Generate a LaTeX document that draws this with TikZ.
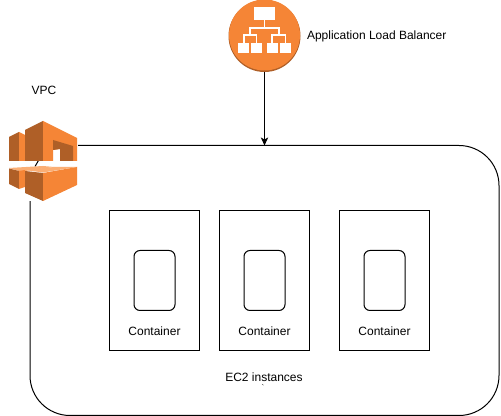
\documentclass[tikz,border=0pt]{standalone}
\usepackage{fontspec}
\usetikzlibrary{arrows.meta}
\setmainfont{Liberation Sans}
\definecolor{awsorange}{HTML}{F58536}
\definecolor{awsdark}{HTML}{AF5F27}
\definecolor{awstop}{HTML}{FBAE74}
\setlength{\unitlength}{0.75pt}
\tikzset{
  outerbox/.style={draw,rectangle,rounded corners=40\unitlength,minimum width=469\unitlength,minimum height=270\unitlength,line width=0.75pt},
  ec2box/.style={draw,rectangle,minimum width=90\unitlength,minimum height=140\unitlength,line width=0.75pt},
  taskbox/.style={draw,rectangle,rounded corners=6\unitlength,minimum width=41\unitlength,minimum height=60\unitlength,line width=0.75pt},
  txt/.style={font=\fontsize{9}{11}\selectfont,inner sep=0pt},
  leafbox/.style={fill=white,draw=none},
  tree/.style={draw=white,line width=1.1pt}
}
\begin{document}
\begin{tikzpicture}[x=0.75pt,y=-0.75pt,inner sep=0pt,outer sep=0pt]
    \useasboundingbox (0,0) rectangle (501,416);
    \node[outerbox] (ec2) at (264.5,280.5) {};
    \node[circle,fill=awsdark,minimum size=72\unitlength] (alb) at (264.5,36) {};
    \fill[awsorange] (264.5,35) circle[radius=35.5];
    \def\boxes{154.5,264.5,384.5}
    \foreach \u [count=\i from 1] in \boxes {\node[ec2box] (box\i) at (\u,280.5) {};}
    \foreach \u [count=\i from 1] in \boxes {\node[taskbox] (task\i) at (\u,280.5) {};}
    \foreach \u [count=\i from 1] in \boxes {\node[txt] (name\i) at (\u,331) {Container};}
    \node[txt,anchor=west] (albname) at (307,36) {Application Load Balancer};
    \node[txt] (vpcname) at (44,90) {VPC};
    \node[txt] (ec2name) at (264,377) {EC2 instances};
    \node[txt,font=\fontsize{6}{7}\selectfont] (tick) at (263,388) {\textasciigrave};
    \draw[-{Stealth[length=6pt,width=5.5pt,inset=1.5pt]},line width=0.75pt] (alb.south) -- (ec2.north);
    %VPC icon
    \fill[white] (9,120) rectangle (78,201);
    \draw[line width=0.75pt] (35,166.5) -- (38.5,160.5);
    \draw[line width=0.75pt] (53,148.5) -- (59,146.5);
    \fill[awsdark] (9,137) -- (19,132) -- (19,161) -- (9,161) -- cycle;
    \fill[awsorange] (19,132) -- (25,135) -- (25,161) -- (19,161) -- cycle;
    \fill[awsdark] (25,130) -- (43,121) -- (43,161) -- (25,161) -- cycle;
    \fill[awsorange] (43,121) -- (77,138) -- (77,161) -- (60,161) -- (60,149) -- (53,150) -- (53,161) -- (43,161) -- cycle;
    \fill[awsdark] (53,140) -- (73,146) -- (73,161) -- (60,161) -- (60,149) -- (53,150) -- cycle;
    \fill[awstop] (9,168) -- (43,166) -- (54,167) -- (25,171) -- (19,171) -- cycle;
    \fill[awsdark] (9,168.5) -- (19,171) -- (19,189) -- (9,184) -- cycle;
    \fill[awsorange] (19,171) -- (25,170) -- (25,187) -- (19,189) -- cycle;
    \fill[awstop] (25,170) -- (54,167) -- (77,167) -- (43,172.5) -- cycle;
    \fill[awsdark] (25,171) -- (43,173) -- (43,201) -- (25,193) -- cycle;
    \fill[awsorange] (43,173) -- (77,167) -- (77,185) -- (43,201) -- cycle;
    %ALB icon
    \draw[tree] (264.5,20) -- (264.5,28) (250,35) -- (250,28) -- (279,28) -- (279,35);
    \draw[tree] (244,43) -- (244,35) -- (256.5,35) -- (256.5,43);
    \draw[tree] (272,43) -- (272,35) -- (285.5,35) -- (285.5,43);
    \fill[leafbox] (254,7) rectangle (275,20);
    \foreach \x in {238,251,267,280} {\fill[leafbox] (\x,43) rectangle ++(11,10);}
  \end{tikzpicture}
\end{document}
